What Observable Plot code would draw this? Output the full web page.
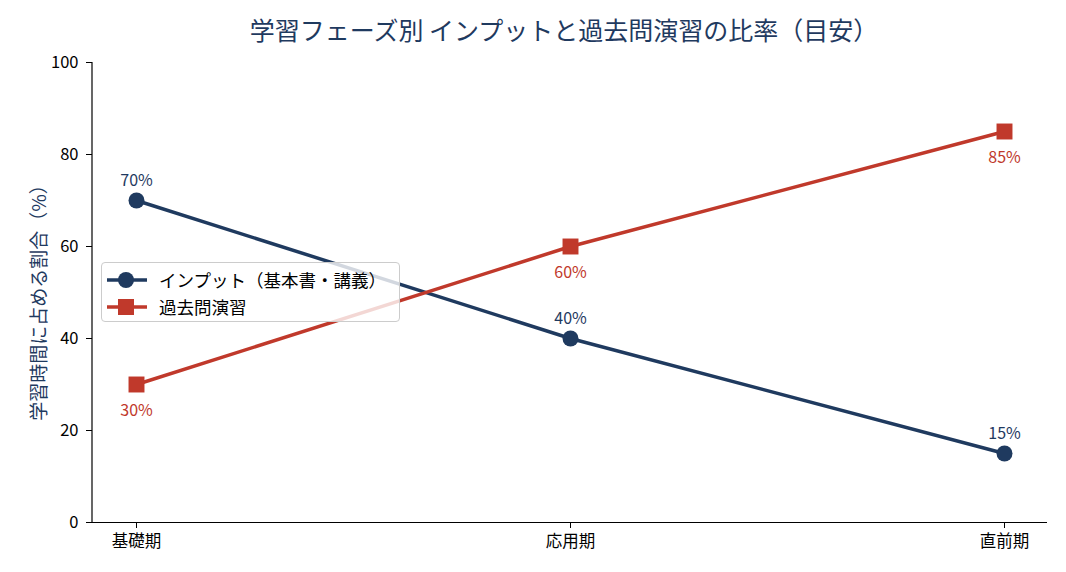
<!DOCTYPE html>
<html>
<head>
<meta charset="utf-8">
<script src="https://cdn.jsdelivr.net/npm/d3@7"></script>
<script src="https://cdn.jsdelivr.net/npm/@observablehq/plot@0.6"></script>
<style>
  body { margin:0; background:#fff; font-family:"Noto Sans CJK JP","Noto Sans",sans-serif; }
  #wrap { position:relative; width:1066px; height:572px; }
  #title { height:50px; box-sizing:border-box; padding-top:14px; line-height:30px; font-size:25px; color:#1f3a5f; text-align:center; padding-left:62px; white-space:nowrap; }
  #ylabel { position:absolute; left:37px; top:298px; transform:translate(-50%,-50%) rotate(-90deg); font-size:19px; color:#1f3a5f; white-space:nowrap; line-height:1; }
  #legend { position:absolute; left:101px; top:262px; width:299px; height:60px; background:rgba(255,255,255,0.8); border:1px solid #cccccc; border-radius:4px; box-sizing:border-box; padding-top:3px; }
  .row { display:flex; align-items:center; height:27px; font-size:17.5px; color:#000; }
  .row svg { margin-left:5px; margin-right:12px; }
</style>
</head>
<body>
<div id="wrap">
  <div id="title">学習フェーズ別 インプットと過去問演習の比率（目安）</div>
  <div id="chart"></div>
  <div id="ylabel"></div>
  <div id="legend"></div>
</div>
<script>
const phases = ["基礎期", "応用期", "直前期"];
const inputShare = [70, 40, 15];
const examShare = [30, 60, 85];
const seriesNames = ["インプット（基本書・講義）", "過去問演習"];
const yTicks = [0, 20, 40, 60, 80, 100];
const yLabel = "学習時間に占める割合（%）";

const navy = "#1f3a5f";
const red = "#c0392b";
const font = "'Noto Sans CJK JP','Noto Sans',sans-serif";

const inputData = phases.map((p, i) => ({phase: p, value: inputShare[i]}));
const examData = phases.map((p, i) => ({phase: p, value: examShare[i]}));

const leftSpine = (index, scales, values, dims) => {
  const g = document.createElementNS("http://www.w3.org/2000/svg", "line");
  g.setAttribute("x1", dims.marginLeft);
  g.setAttribute("x2", dims.marginLeft);
  g.setAttribute("y1", dims.marginTop);
  g.setAttribute("y2", dims.height - dims.marginBottom);
  g.setAttribute("stroke", "black");
  g.setAttribute("stroke-width", 1.2);
  return g;
};

const chart = Plot.plot({
  width: 1066,
  height: 522,
  marginTop: 12,
  marginBottom: 50,
  marginLeft: 92,
  marginRight: 19,
  style: {fontFamily: font, fontSize: "15px", color: "black", background: "white", overflow: "visible"},
  x: {type: "point", domain: phases, padding: 0.1, label: null},
  y: {domain: [0, 100], label: null},
  marks: [
    Plot.axisY({ticks: yTicks, tickSize: 6, tickPadding: 8, fontSize: 16.5, label: null}),
    Plot.axisX({tickSize: 6, tickPadding: 7, fontSize: 16.5, label: null}),
    Plot.ruleY([0], {stroke: "black", strokeWidth: 1.2}),
    leftSpine,
    Plot.line(inputData, {x: "phase", y: "value", stroke: navy, strokeWidth: 3.5}),
    Plot.dot(inputData, {x: "phase", y: "value", r: 8, fill: navy, symbol: "circle"}),
    Plot.line(examData, {x: "phase", y: "value", stroke: red, strokeWidth: 3.5}),
    Plot.dot(examData, {x: "phase", y: "value", r: 9, fill: red, symbol: "square"}),
    Plot.text(inputData, {x: "phase", y: "value", text: d => d.value + "%", dy: -20, fill: navy, fontSize: 16, fontFamily: font}),
    Plot.text(examData, {x: "phase", y: "value", text: d => d.value + "%", dy: 26, fill: red, fontSize: 16, fontFamily: font})
  ]
});
document.getElementById("chart").appendChild(chart);
document.getElementById("ylabel").textContent = yLabel;

const legend = document.getElementById("legend");
const sampleSvg = (color, shape) => {
  const marker = shape === "circle"
    ? `<circle cx="19" cy="9" r="8" fill="${color}"/>`
    : `<rect x="11" y="1" width="16" height="16" fill="${color}"/>`;
  return `<svg width="40" height="18"><line x1="0" x2="40" y1="9" y2="9" stroke="${color}" stroke-width="3.5"/>${marker}</svg>`;
};
legend.innerHTML =
  `<div class="row">${sampleSvg(navy, "circle")}<span>${seriesNames[0]}</span></div>` +
  `<div class="row">${sampleSvg(red, "square")}<span>${seriesNames[1]}</span></div>`;
</script>
</body>
</html>
